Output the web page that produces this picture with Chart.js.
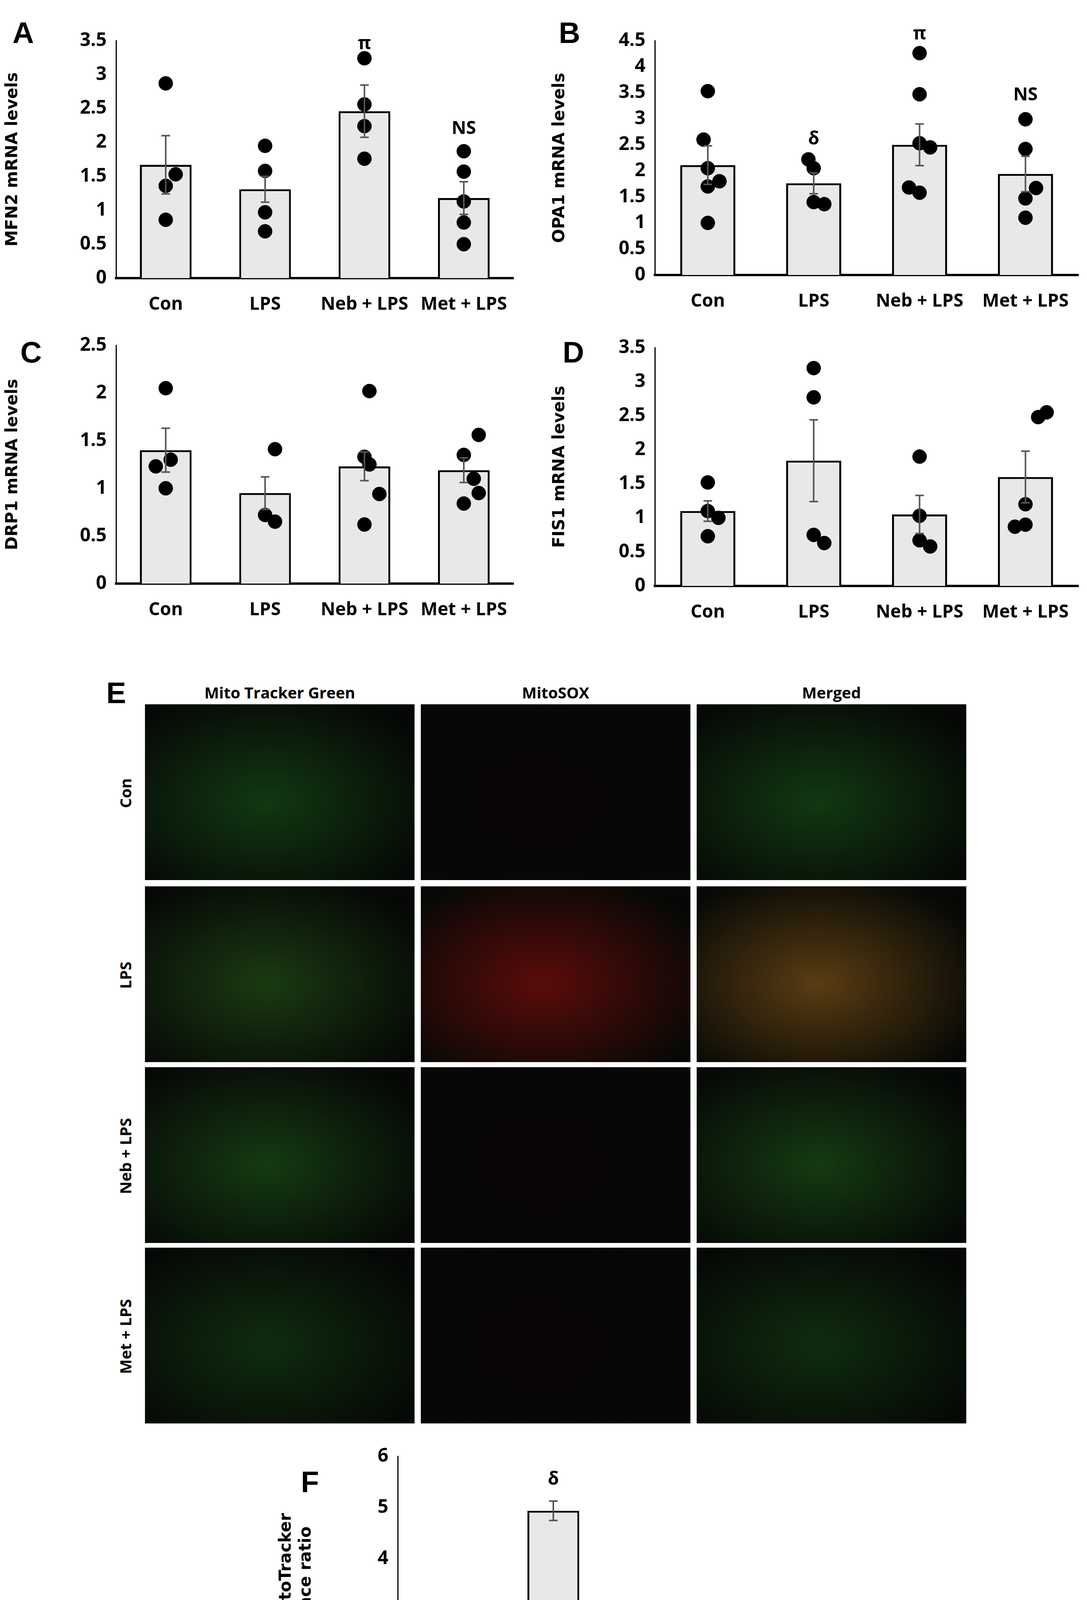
<!DOCTYPE html>
<html>
<head>
<meta charset="utf-8">
<script src="https://cdn.jsdelivr.net/npm/chart.js@4.4.1/dist/chart.umd.min.js"></script>
<style>
body{margin:0;background:#fff;}
#page{position:relative;width:2782px;height:4675px;overflow:hidden;font-family:"Open Sans",sans-serif;}
canvas{position:absolute;}
.lbl{position:absolute;font:bold 76px "Liberation Sans",Arial,sans-serif;}
.hdr{position:absolute;font:bold 40px "Open Sans",sans-serif;text-align:center;width:690px;}
.row{position:absolute;font:bold 40px "Open Sans",sans-serif;transform:rotate(-90deg);transform-origin:center;width:450px;text-align:center;}
.img{position:absolute;}
</style>
</head>
<body>
<div id="page">
  <div class="lbl" style="left:32px;top:40px">A</div>
  <div class="lbl" style="left:1430px;top:40px">B</div>
  <div class="lbl" style="left:52px;top:858px">C</div>
  <div class="lbl" style="left:1440px;top:858px">D</div>
  <div class="lbl" style="left:272px;top:1730px">E</div>
  <div class="lbl" style="left:770px;top:3750px">F</div>
  <canvas id="chartA" width="1340" height="800" style="left:0;top:60px"></canvas>
  <canvas id="chartB" width="1380" height="800" style="left:1400px;top:60px"></canvas>
  <canvas id="chartC" width="1340" height="800" style="left:0;top:830px"></canvas>
  <canvas id="chartD" width="1380" height="800" style="left:1400px;top:830px"></canvas>
  <canvas id="chartF" width="1400" height="950" style="left:700px;top:3690px"></canvas>
  <div id="panelE"></div>
</div>
<script>
// Datos de los graficos
const grupos = ["Con", "LPS", "Neb + LPS", "Met + LPS"];

const mfn2Media = [1.67, 1.31, 2.46, 1.18];
const mfn2Error = [0.43, 0.19, 0.385, 0.24];
const mfn2Puntos = [[2.87, 1.53, 1.36, 0.86], [1.95, 1.58, 0.97, 0.69], [3.24, 2.56, 2.24, 1.76], [1.87, 1.57, 1.13, 0.82, 0.5]];
const mfn2Jitter = [[0, 0.1, 0, 0], [0, 0, 0, 0], [0, 0, 0, 0], [0, 0, 0, 0, 0]];
const mfn2Marcas = [null, null, "π", "NS"];
const mfn2MarcaY = [null, null, 3.45, 2.2];

const opa1Media = [2.11, 1.76, 2.5, 1.94];
const opa1Error = [0.37, 0.2, 0.4, 0.34];
const opa1Puntos = [[3.53, 2.6, 2.05, 1.8, 1.7, 1.0], [2.22, 2.05, 1.4, 1.36], [4.26, 3.47, 2.53, 2.45, 1.68, 1.58], [2.99, 2.42, 1.67, 1.47, 1.1]];
const opa1Jitter = [[0, -0.04, 0, 0.11, 0, 0], [-0.05, 0, 0, 0.1], [0, 0, 0, 0.1, -0.1, 0], [0, 0, 0.1, 0, 0]];
const opa1Marcas = [null, "δ", "π", "NS"];
const opa1MarcaY = [null, 2.6, 4.62, 3.45];

const drp1Media = [1.4, 0.95, 1.23, 1.19];
const drp1Error = [0.23, 0.17, 0.15, 0.13];
const drp1Puntos = [[2.05, 1.3, 1.23, 1.0], [1.41, 0.72, 0.65], [2.02, 1.33, 1.25, 0.94, 0.62], [1.56, 1.35, 1.1, 0.95, 0.84]];
const drp1Jitter = [[0, 0.05, -0.1, 0], [0.1, 0, 0.1], [0.05, 0, 0.05, 0.15, 0], [0.15, 0, 0.1, 0.15, 0]];

const fis1Media = [1.1, 1.84, 1.05, 1.6];
const fis1Error = [0.15, 0.6, 0.28, 0.38];
const fis1Puntos = [[1.52, 1.1, 1.0, 0.73], [3.2, 2.77, 0.75, 0.63], [1.9, 1.03, 0.67, 0.58], [2.55, 2.48, 1.2, 0.9, 0.87]];
const fis1Jitter = [[0, 0, 0.1, 0], [0, 0, 0, 0.1], [0, 0, 0, 0.1], [0.2, 0.12, 0, 0, -0.1]];

const ratioMedia = [1.0, 4.94, 0.69, 0.43];
const ratioError = [0.02, 0.19, 0.15, 0.11];
const ratioMarcas = [null, "δ", "ππ", "ππ"];
const ratioMarcaY = [null, 5.55, 1.2, 0.95];

const fuenteTicks = "'Liberation Sans Narrow','Open Sans',sans-serif";

// plugin para barras de error y marcas de significancia
const pluginExtras = {
    id: "extras",
    afterDatasetsDraw(chart, args, opts) {
        const ctx = chart.ctx;
        const xs = chart.scales.x;
        const ys = chart.scales.y;
        ctx.save();
        ctx.strokeStyle = "#555";
        ctx.lineWidth = 4;
        opts.media.forEach((m, i) => {
            const x = xs.getPixelForValue(i);
            const y1 = ys.getPixelForValue(m + opts.error[i]);
            const y2 = ys.getPixelForValue(m - opts.error[i]);
            ctx.beginPath();
            ctx.moveTo(x, y1); ctx.lineTo(x, y2);
            ctx.moveTo(x - 11, y1); ctx.lineTo(x + 11, y1);
            ctx.moveTo(x - 11, y2); ctx.lineTo(x + 11, y2);
            ctx.stroke();
        });
        if (opts.marcas) {
            ctx.fillStyle = "#000";
            ctx.font = "bold 46px " + fuenteTicks;
            ctx.textAlign = "center";
            ctx.textBaseline = "middle";
            opts.marcas.forEach((t, i) => {
                if (t) ctx.fillText(t, xs.getPixelForValue(i), ys.getPixelForValue(opts.marcaY[i]));
            });
        }
        ctx.restore();
    }
};

function crearGrafico(id, media, error, puntos, jitter, max, titulo, ejeAncho, padTop, ejeAlto, marcas, marcaY, barPct) {
    const datasets = [{
        type: "bar",
        data: media,
        backgroundColor: "#e8e8e8",
        borderColor: "#000",
        borderWidth: 5,
        grouped: false,
        barPercentage: barPct,
        categoryPercentage: 1,
        order: 2
    }];
    if (puntos) {
        const pts = [];
        puntos.forEach((grupo, i) => grupo.forEach((v, j) => pts.push({ x: i + jitter[i][j], y: v })));
        datasets.push({
            type: "scatter",
            data: pts,
            xAxisID: "x2",
            backgroundColor: "#000",
            borderColor: "#000",
            pointRadius: 18,
            order: 1
        });
    }
    new Chart(document.getElementById(id), {
        data: { labels: grupos, datasets: datasets },
        plugins: [pluginExtras],
        options: {
            responsive: false,
            animation: false,
            devicePixelRatio: 1,
            layout: { padding: { top: padTop, right: 20 } },
            plugins: {
                legend: { display: false },
                tooltip: { enabled: false },
                extras: { media: media, error: error, marcas: marcas, marcaY: marcaY }
            },
            scales: {
                x: {
                    grid: { display: false, drawTicks: false },
                    border: { color: "#000", width: 6 },
                    ticks: { color: "#000", padding: 40, font: { family: fuenteTicks, size: 46, weight: "bold" } },
                    afterFit: s => { s.height = ejeAlto; }
                },
                x2: { type: "linear", display: false, min: -0.5, max: 3.5 },
                y: {
                    min: 0, max: max,
                    grid: { display: false, drawTicks: true, tickLength: 14, tickColor: "#000", tickWidth: 3 },
                    border: { color: "#000", width: 3 },
                    ticks: {
                        stepSize: max > 5 ? 1 : 0.5, color: "#000", padding: 10,
                        font: { family: fuenteTicks, size: 48, weight: "bold" },
                        callback: v => String(Math.round(v * 10) / 10)
                    },
                    title: { display: true, text: titulo, color: "#000", font: { family: "'DejaVu Sans',Verdana,sans-serif", size: 42, weight: "bold" }, padding: 8 },
                    afterFit: s => { s.width = ejeAncho; }
                }
            }
        }
    });
}

crearGrafico("chartA", mfn2Media, mfn2Error, mfn2Puntos, mfn2Jitter, 3.5, "MFN2 mRNA levels", 297, 44, 148, mfn2Marcas, mfn2MarcaY, 0.52);
crearGrafico("chartB", opa1Media, opa1Error, opa1Puntos, opa1Jitter, 4.5, "OPA1 mRNA levels", 276, 44, 156, opa1Marcas, opa1MarcaY, 0.52);
crearGrafico("chartC", drp1Media, drp1Error, drp1Puntos, drp1Jitter, 2.5, "DRP1 mRNA levels", 297, 54, 136, null, null, 0.52);
crearGrafico("chartD", fis1Media, fis1Error, fis1Puntos, fis1Jitter, 3.5, "FIS1 mRNA levels", 276, 60, 130, null, null, 0.52);
crearGrafico("chartF", ratioMedia, ratioError, null, null, 6, ["MitoSOX/MitoTracker", "fluorescence ratio"], 318, 18, 126, ratioMarcas, ratioMarcaY, 0.5);

// Panel E: imagenes de microscopia representadas como paneles oscuros
const columnas = ["Mito Tracker Green", "MitoSOX", "Merged"];
const filas = ["Con", "LPS", "Neb + LPS", "Met + LPS"];
const colX = [371, 1077, 1783];
const filaY = [1803, 2269, 2732, 3194];
const tintes = [
    ["#123812", "#0a0505", "#123812"],
    ["#1a3a12", "#5a0c0a", "#5a3c12"],
    ["#153a12", "#0a0505", "#153a12"],
    ["#0f2c0f", "#0a0505", "#0f2c0f"]
];
const panelE = document.getElementById("panelE");
columnas.forEach((c, j) => {
    const h = document.createElement("div");
    h.className = "hdr"; h.textContent = c;
    h.style.left = colX[j] + "px"; h.style.top = "1745px";
    panelE.appendChild(h);
});
filas.forEach((f, i) => {
    const r = document.createElement("div");
    r.className = "row"; r.textContent = f;
    r.style.left = (320 - 225) + "px"; r.style.top = (filaY[i] + 225 - 25) + "px";
    panelE.appendChild(r);
    columnas.forEach((c, j) => {
        const d = document.createElement("div");
        d.className = "img";
        d.style.left = colX[j] + "px"; d.style.top = filaY[i] + "px";
        d.style.width = "690px"; d.style.height = "450px";
        d.style.background = "radial-gradient(ellipse at 45% 55%, " + tintes[i][j] + ", #050805 85%)";
        panelE.appendChild(d);
    });
});
</script>
</body>
</html>
